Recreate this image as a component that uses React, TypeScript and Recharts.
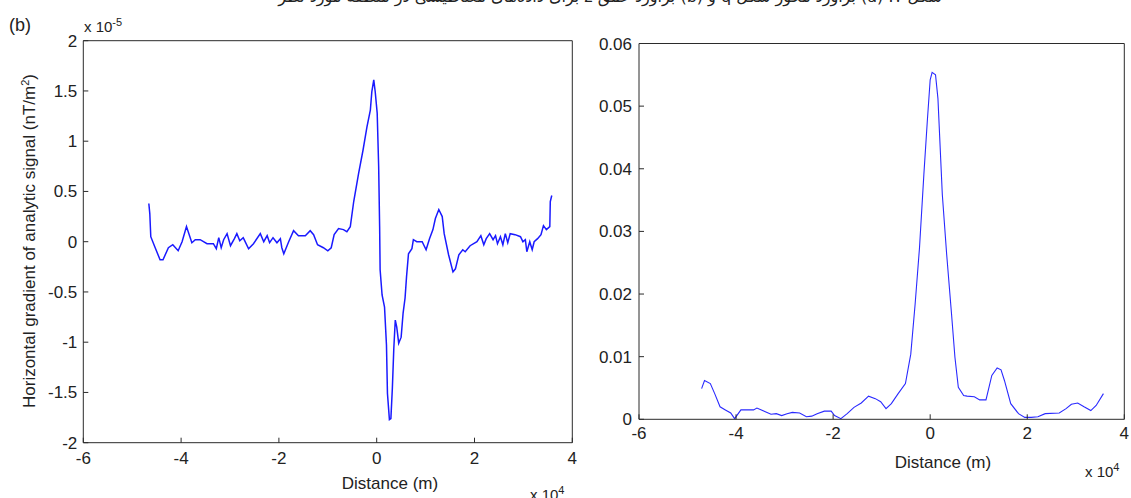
import React from 'react';
import { LineChart, Line, XAxis, YAxis } from 'recharts';

// left panel: distance (x 10^4 m) vs horizontal gradient (x 10^-5 nT/m^2)
const leftDistance = [
  -4.66, -4.64, -4.62, -4.53, -4.43, -4.37, -4.26, -4.17, -4.06, -3.98, -3.89, -3.78, -3.71, -3.61,
  -3.47, -3.34, -3.28, -3.23, -3.18, -3.13, -3.06, -2.99, -2.91, -2.86, -2.8, -2.73, -2.71, -2.62,
  -2.52, -2.38, -2.31, -2.24, -2.19, -2.12, -2.04, -1.97, -1.94, -1.9, -1.8, -1.7, -1.6, -1.46, -1.36,
  -1.29, -1.21, -1.09, -1.0, -0.93, -0.87, -0.78, -0.68, -0.61, -0.54, -0.47, -0.37, -0.28, -0.2,
  -0.13, -0.1, -0.06, -0.03, 0.01, 0.04, 0.06, 0.07, 0.11, 0.16, 0.2, 0.22, 0.26, 0.29, 0.32, 0.35,
  0.38, 0.41, 0.45, 0.5, 0.54, 0.58, 0.61, 0.65, 0.72, 0.75, 0.82, 0.93, 1.01, 1.08, 1.15, 1.2, 1.27,
  1.34, 1.38, 1.47, 1.56, 1.61, 1.68, 1.76, 1.81, 1.91, 2.05, 2.13, 2.19, 2.24, 2.31, 2.38, 2.43,
  2.47, 2.53, 2.58, 2.63, 2.68, 2.73, 2.83, 2.94, 2.99, 3.04, 3.07, 3.13, 3.18, 3.22, 3.29, 3.36,
  3.41, 3.47, 3.54, 3.55, 3.58,
];
const leftGradient = [
  0.38, 0.28, 0.05, -0.06, -0.18, -0.18, -0.06, -0.03, -0.09, 0, 0.15, -0.01, 0.02, 0.02,
  -0.02, -0.02, -0.07, 0.04, -0.06, 0.02, 0.08, -0.04, 0.03, 0.08, 0.01, 0.04, 0.02, -0.07,
  -0.02, 0.08, 0, 0.06, -0.01, 0.04, -0.01, 0.03, -0.06, -0.12, 0, 0.11, 0.06, 0.06, 0.11,
  0.07, -0.03, -0.06, -0.09, -0.06, 0.07, 0.13, 0.12, 0.1, 0.15, 0.4, 0.68, 0.91, 1.14,
  1.31, 1.49, 1.61, 1.49, 1.28, 0.75, 0.15, -0.28, -0.53, -0.65, -1.03, -1.51, -1.77, -1.76, -1.46, -1.06,
  -0.78, -0.85, -1.01, -0.95, -0.71, -0.56, -0.35, -0.12, -0.07, 0.02, 0, 0, -0.08, 0.03, 0.12, 0.23, 0.32,
  0.25, 0.08, -0.13, -0.3, -0.27, -0.13, -0.08, -0.1, -0.04, 0, 0.06, -0.03, 0.03, 0.08, 0.02, 0.06,
  -0.02, 0.05, -0.03, 0.08, -0.01, 0.08, 0.07, 0.05, 0, 0.02, -0.1, 0, -0.08, 0, 0.03, 0.07,
  0.16, 0.12, 0.15, 0.4, 0.46,
];

// right panel: distance (x 10^4 m) vs analytic signal
const rightDistance = [
  -4.71, -4.65, -4.53, -4.44, -4.33, -4.22, -4.11, -4.03, -3.9, -3.64, -3.57, -3.42, -3.28, -3.17,
  -3.06, -2.95, -2.84, -2.69, -2.55, -2.44, -2.33, -2.18, -2.04, -1.97, -1.84, -1.71, -1.57, -1.42,
  -1.27, -1.13, -1.02, -0.91, -0.8, -0.66, -0.51, -0.4, -0.31, -0.22, -0.13, -0.06, 0.0, 0.04, 0.11,
  0.16, 0.25, 0.34, 0.44, 0.51, 0.58, 0.69, 0.76, 0.91, 1.02, 1.15, 1.27, 1.38, 1.46, 1.53, 1.66,
  1.82, 1.95, 2.08, 2.22, 2.37, 2.66, 2.8, 2.91, 3.04, 3.17, 3.31, 3.42, 3.57,
];
const rightSignal = [
  0.0049, 0.0062, 0.0057, 0.0041, 0.002, 0.0015, 0.001, 0.0001, 0.0015, 0.0015, 0.0018, 0.0013, 0.0008, 0.0009,
  0.0006, 0.0009, 0.0011, 0.001, 0.0004, 0.0005, 0.0009, 0.0013, 0.0013, 0.0006, 0.0001, 0.0009, 0.0019, 0.0026,
  0.0037, 0.0033, 0.0028, 0.0017, 0.0025, 0.0041, 0.0057, 0.0104, 0.0184, 0.0274, 0.0391, 0.0475, 0.0542, 0.0554, 0.055,
  0.0512, 0.0359, 0.0263, 0.0168, 0.0099, 0.0051, 0.0038, 0.0037, 0.0036, 0.0031, 0.0031, 0.007, 0.0082, 0.0079, 0.0062, 0.0025,
  0.0009, 0.0003, 0.0003, 0.0004, 0.0009, 0.001, 0.0017, 0.0024, 0.0026, 0.002, 0.0014, 0.0022, 0.0041,
];

const xTicks = [-6, -4, -2, 0, 2, 4];
const leftYTicks = [-2, -1.5, -1, -0.5, 0, 0.5, 1, 1.5, 2];
const rightYTicks = [0, 0.01, 0.02, 0.03, 0.04, 0.05, 0.06];

const leftData = leftDistance.map((x, i) => ({ x, y: leftGradient[i] }));
const rightData = rightDistance.map((x, i) => ({ x, y: rightSignal[i] }));

const FONT = '"Liberation Sans", Arial, sans-serif';
const AXIS = '#2b2b2b';
const tickStyle = { fill: '#222', fontSize: 17, fontFamily: FONT };

const text = (left: number, top: number, size = 17): React.CSSProperties => ({
  position: 'absolute',
  left,
  top,
  fontFamily: FONT,
  fontSize: size,
  color: '#222',
  whiteSpace: 'nowrap',
  lineHeight: 1,
});

export default function App() {
  return (
    <div style={{ position: 'absolute', left: 0, top: 0, width: 1131, height: 498, overflow: 'hidden', background: '#fff' }}>
      {/* clipped caption line */}
      <div
        dir="rtl"
        style={{ ...text(235, -11, 16), fontFamily: '"DejaVu Sans", sans-serif', width: 750, textAlign: 'center' }}
      >
        شکل ۷: (a) برآورد محور شکل q و (b) برآورد عمق z برای داده‌های مغناطیسی در منطقه مورد نظر
      </div>

      <div style={{ position: 'absolute', left: 0, top: 0 }}>
        <LineChart width={620} height={498} data={leftData} margin={{ top: 39.7, left: 43.3, right: 46.7, bottom: 25.3 }}>
          <XAxis
            xAxisId="b"
            dataKey="x"
            type="number"
            domain={[-6, 4]}
            ticks={xTicks}
            allowDataOverflow
            height={30}
            tickSize={-5}
            tickMargin={14}
            stroke={AXIS}
            tick={tickStyle}
          />
          <XAxis xAxisId="t" orientation="top" type="number" domain={[-6, 4]} ticks={xTicks} height={1} tickSize={-5} tick={false} stroke={AXIS} />
          <YAxis
            yAxisId="l"
            type="number"
            domain={[-2, 2]}
            ticks={leftYTicks}
            allowDataOverflow
            width={40}
            tickSize={-5}
            tickMargin={11}
            stroke={AXIS}
            tick={tickStyle}
          />
          <YAxis yAxisId="r" orientation="right" type="number" domain={[-2, 2]} ticks={leftYTicks} width={1} tickSize={-5} tick={false} stroke={AXIS} />
          <Line
            xAxisId="b"
            yAxisId="l"
            dataKey="y"
            type="linear"
            stroke="#1a1aff"
            strokeWidth={1.5}
            dot={false}
            isAnimationActive={false}
          />
        </LineChart>
      </div>

      <div style={{ position: 'absolute', left: 580, top: 0 }}>
        <LineChart width={551} height={498} data={rightData} margin={{ top: 42.5, left: 0, right: 5.7, bottom: 48.7 }}>
          <XAxis
            xAxisId="b"
            dataKey="x"
            type="number"
            domain={[-6, 4]}
            ticks={xTicks}
            allowDataOverflow
            height={30}
            tickSize={-5}
            tickMargin={13}
            stroke={AXIS}
            tick={tickStyle}
          />
          <XAxis xAxisId="t" orientation="top" type="number" domain={[-6, 4]} ticks={xTicks} height={1} tickSize={-5} tick={false} stroke={AXIS} />
          <YAxis
            yAxisId="l"
            type="number"
            domain={[0, 0.06]}
            ticks={rightYTicks}
            allowDataOverflow
            width={59}
            tickSize={-5}
            tickMargin={12}
            stroke={AXIS}
            tick={tickStyle}
          />
          <YAxis yAxisId="r" orientation="right" type="number" domain={[0, 0.06]} ticks={rightYTicks} width={1} tickSize={-5} tick={false} stroke={AXIS} />
          <Line
            xAxisId="b"
            yAxisId="l"
            dataKey="y"
            type="linear"
            stroke="#2a2aff"
            strokeWidth={1.1}
            dot={false}
            isAnimationActive={false}
          />
        </LineChart>
      </div>

      {/* panel letter and exponent labels */}
      <div style={text(9, 16, 18)}>(b)</div>
      <div style={text(84, 17, 15)}>
        x 10<sup style={{ fontSize: 11, verticalAlign: 6 }}>-5</sup>
      </div>
      <div style={text(530, 485, 15)}>
        x 10<sup style={{ fontSize: 11, verticalAlign: 6 }}>4</sup>
      </div>
      <div style={text(1085, 462, 15)}>
        x 10<sup style={{ fontSize: 11, verticalAlign: 6 }}>4</sup>
      </div>

      {/* axis titles */}
      <div style={{ ...text(340, 475), width: 100, textAlign: 'center' }}>Distance (m)</div>
      <div style={{ ...text(893, 454), width: 100, textAlign: 'center' }}>Distance (m)</div>
      <div
        style={{
          ...text(29, 241, 17),
          transform: 'translate(-50%, -50%) rotate(-90deg)',
        }}
      >
        Horizontal gradient of analytic signal (nT/m<sup style={{ fontSize: 11, verticalAlign: 6 }}>2</sup>)
      </div>
    </div>
  );
}
